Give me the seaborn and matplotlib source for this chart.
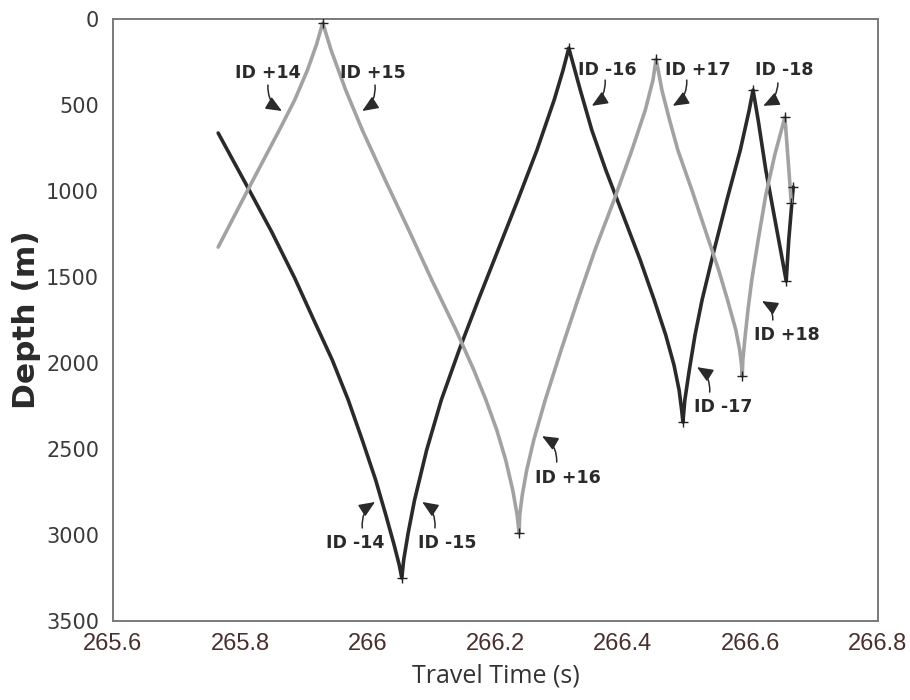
import numpy as np
import pandas as pd
import seaborn as sns
import matplotlib
matplotlib.use("Agg")
import matplotlib.pyplot as plt

# ---- data ----
dark_time = [265.765, 265.788, 265.812, 265.849, 265.885, 265.915, 265.944, 265.969, 265.991,
             266.012, 266.028, 266.041, 266.049, 266.053,
             266.056, 266.063, 266.073, 266.092, 266.115, 266.143, 266.173, 266.204, 266.235,
             266.265, 266.292, 266.306, 266.315,
             266.333, 266.351, 266.373, 266.397, 266.427, 266.449, 266.467, 266.480, 266.488,
             266.492, 266.494,
             266.497, 266.504, 266.513, 266.524, 266.543, 266.563, 266.584, 266.598, 266.604,
             266.612, 266.624, 266.637, 266.648, 266.656,
             266.660, 266.667]
dark_depth = [663, 820, 983, 1238, 1506, 1750, 1983, 2215, 2448,
              2680, 2884, 3058, 3174, 3250,
              3145, 2988, 2797, 2506, 2215, 1924, 1634, 1343, 1052,
              762, 471, 297, 169,
              413, 645, 878, 1110, 1401, 1634, 1837, 2012, 2157,
              2273, 2343,
              2215, 2041, 1837, 1634, 1343, 1052, 762, 529, 413,
              587, 878, 1140, 1360, 1523,
              1285, 977]

grey_time = [265.765, 265.813, 265.861, 265.885, 265.905, 265.919, 265.929,
             265.942, 265.965, 265.991, 266.027, 266.064, 266.100, 266.138, 266.166, 266.185,
             266.202, 266.216, 266.227, 266.234, 266.237,
             266.238, 266.242, 266.249, 266.260, 266.278, 266.303, 266.329, 266.356, 266.386,
             266.414, 266.435, 266.447, 266.452,
             266.461, 266.473, 266.486, 266.508, 266.529, 266.550, 266.564, 266.577, 266.583,
             266.586, 266.587,
             266.588, 266.591, 266.596, 266.602, 266.612, 266.624, 266.638, 266.654,
             266.659, 266.664]
grey_depth = [1326, 983, 645, 471, 297, 151, 23,
              180, 413, 645, 936, 1227, 1517, 1808, 2041, 2215,
              2390, 2564, 2738, 2884, 2988,
              2884, 2767, 2622, 2448, 2215, 1924, 1634, 1343, 1052,
              762, 529, 355, 233,
              413, 587, 762, 994, 1227, 1459, 1634, 1808, 1924,
              2012, 2076,
              1983, 1866, 1692, 1517, 1285, 1023, 791, 570,
              820, 1070]

turn_time = [266.053, 266.315, 266.494, 266.604, 266.656, 266.667,
             265.929, 266.237, 266.452, 266.587, 266.654, 266.664]
turn_depth = [3250, 169, 2343, 413, 1523, 977,
              23, 2988, 233, 2076, 570, 1070]

labels = ["ID +14", "ID +15", "ID -16", "ID +17", "ID -18",
          "ID +18", "ID -17", "ID -14", "ID -15", "ID +16"]
label_time = [265.843, 266.008, 266.376, 266.518, 266.653,
              266.657, 266.557, 265.980, 266.125, 266.314]
label_depth = [314, 314, 297, 297, 297,
               1837, 2256, 3047, 3047, 2669]
arrow_tail_time = [265.843, 266.011, 266.372, 266.500, 266.643,
                   266.635, 266.536, 265.991, 266.105, 266.296]
arrow_tail_depth = [384, 384, 355, 355, 372,
                    1750, 2169, 2959, 2959, 2576]
arrow_head_time = [265.865, 265.991, 266.351, 266.478, 266.620,
                   266.618, 266.516, 266.011, 266.085, 266.273]
arrow_head_depth = [535, 535, 505, 505, 505,
                    1640, 2024, 2808, 2808, 2425]
arrow_rad = [0.3, -0.3, -0.3, -0.3, -0.3,
             0.3, 0.3, -0.3, 0.3, 0.3]

x_ticks = [265.6, 265.8, 266.0, 266.2, 266.4, 266.6, 266.8]
x_tick_labels = ["265.6", "265.8", "266", "266.2", "266.4", "266.6", "266.8"]
y_ticks = [0, 500, 1000, 1500, 2000, 2500, 3000, 3500]

df = pd.concat([
    pd.DataFrame({"time": dark_time, "depth": dark_depth, "ray": "dark"}),
    pd.DataFrame({"time": grey_time, "depth": grey_depth, "ray": "grey"}),
], ignore_index=True)

sns.set_theme(style="white")
plt.rcParams["font.family"] = ["DejaVu Sans"]

fig = plt.figure(figsize=(9.1, 7.0), dpi=100)
ax = fig.add_axes([113 / 910, 1 - 621 / 700, 765 / 910, 602 / 700])

sns.lineplot(data=df, x="time", y="depth", hue="ray", units="ray", estimator=None,
             sort=False, palette={"dark": "#2a2a2a", "grey": "#a2a2a2"},
             linewidth=2.6, legend=False, ax=ax)
sns.scatterplot(x=turn_time, y=turn_depth, marker="+", color="#222222", s=60,
                linewidth=1.0, ax=ax, zorder=5)

for i, lab in enumerate(labels):
    ax.text(label_time[i], label_depth[i], lab, ha="center", va="center",
            fontsize=12.5, fontweight="bold", color="#2a2a2a", zorder=6)
    ax.annotate("", xy=(arrow_head_time[i], arrow_head_depth[i]),
                xytext=(arrow_tail_time[i], arrow_tail_depth[i]),
                arrowprops=dict(arrowstyle="-|>,head_length=0.8,head_width=0.34",
                                connectionstyle=f"arc3,rad={arrow_rad[i]}",
                                color="#2a2a2a", lw=1.1, shrinkA=0, shrinkB=0,
                                mutation_scale=12), zorder=6)

ax.set_xlim(265.6, 266.8)
ax.set_ylim(3500, 0)
ax.set_xticks(x_ticks)
ax.set_xticklabels(x_tick_labels)
ax.set_yticks(y_ticks)
ax.tick_params(axis="both", direction="in", length=6, width=1, color="#777777")
ax.tick_params(axis="x", labelcolor="#4a302c", pad=9)
ax.tick_params(axis="y", labelsize=15, labelcolor="#3a3a3a", pad=10)
for lab in ax.get_xticklabels():
    lab.set_family(["Liberation Sans", "DejaVu Sans"])
    lab.set_size(17)
for s in ax.spines.values():
    s.set_color("#7a7a7a")
    s.set_linewidth(1.4)

ax.set_xlabel("Travel Time (s)", fontsize=18, color="#333333", labelpad=6,
              family=["Open Sans", "DejaVu Sans"])
ax.set_ylabel("Depth (m)", fontsize=22.5, fontweight="bold", color="#2a2a2a", labelpad=4)

fig.savefig("out.png", dpi=100)
